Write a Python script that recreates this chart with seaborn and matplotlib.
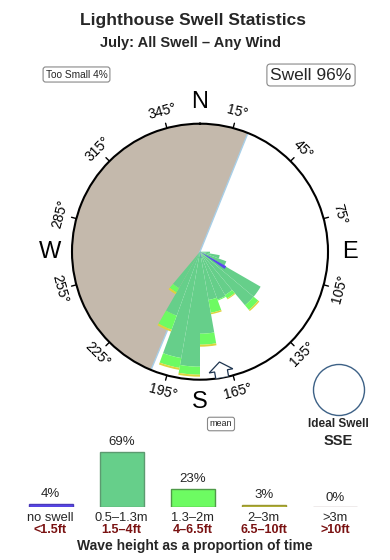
import numpy as np
import matplotlib
matplotlib.use("Agg")
import matplotlib.pyplot as plt
import seaborn as sns
from matplotlib.patches import Ellipse, Polygon

sns.set_theme(style="white")
plt.rcParams['font.family'] = ['Liberation Sans', 'DejaVu Sans']

# ---------------- data ----------------
title = "Lighthouse Swell Statistics"
subtitle = "July: All Swell \u2013 Any Wind"
too_small_pct = 4
swell_pct = 96
ideal_swell = "SSE"
mean_direction = 170

# rose bins (10 deg wide), centres in compass degrees
dir_centers = [95, 105, 115, 125, 135, 145, 155, 165, 175, 185, 195, 205, 215]
len_05_13 = [10, 20, 28, 70, 70, 50, 51, 49, 82, 115, 108, 68, 42]
len_13_2 = [0, 0, 0, 0, 6, 4, 1, 13, 11, 8, 10, 15, 5]
len_2_3 = [0, 0, 0, 0, 1.5, 1, 0, 1.5, 2, 2, 2, 2, 2]
noswell_dirs = [122, 170]
noswell_len = [30, 6]

land_start, land_end = 202.5, 382.0
rose_max = 128

degree_ticks = [15, 45, 75, 105, 135, 165, 195, 225, 255, 285, 315, 345]
cardinals = ["N", "E", "S", "W"]
cardinal_dirs = [0, 90, 180, 270]

# legend (height distribution)
cats = ["no swell", "0.5\u20131.3m", "1.3\u20132m", "2\u20133m", ">3m"]
feet = ["<1.5ft", "1.5\u20134ft", "4\u20136.5ft", "6.5\u201310ft", ">10ft"]
pcts = [4, 69, 23, 3, 0]

c_blue = "#5a48ee"
c_green = "#66cf8a"
c_lime = "#6dfb62"
c_yellow = "#dcd43c"
c_big = "#c9abab"
bar_colors = [c_blue, c_green, c_lime, "#bfbd3a", c_big]
bar_edges = ["#4a3ab8", "#5c9a70", "#4f9a48", "#9a9830", "#b09a9a"]
c_land = "#c4b9ac"

W, H = 390, 560
fig = plt.figure(figsize=(W / 100, H / 100), dpi=100)

def fx(x):
    return x / W

def fy(y):
    return 1 - y / H

# ---------------- rose ----------------
cx, cy, R = 200, 251.7, 128
ax = fig.add_axes([fx(cx - R), fy(cy + R), 2 * R / W, 2 * R / H], projection="polar")
ax.set_theta_zero_location("N")
ax.set_theta_direction(-1)
ax.set_ylim(0, rose_max)
ax.grid(False)
ax.set_xticks([])
ax.set_yticks([])
ax.spines["polar"].set_linewidth(1.5)
ax.spines["polar"].set_color("black")
ax.set_facecolor("white")

lw_land = land_end - land_start
ax.bar(np.radians(land_start + lw_land / 2), rose_max, width=np.radians(lw_land),
       color=c_land, linewidth=0, zorder=1)
for a in (land_start, land_end):
    ax.plot([np.radians(a)] * 2, [0, rose_max], color="#a8cfe8", lw=1.0, zorder=1.5)

th = np.radians(dir_centers)
wd = np.radians(10)
g = np.array(len_05_13, float)
b = np.array(len_13_2, float)
yl = np.array(len_2_3, float)
ax.bar(th, g, width=wd, bottom=0, color=c_green, linewidth=0, zorder=2)
ax.bar(th, b, width=wd, bottom=g, color=c_lime, linewidth=0, zorder=2)
ax.bar(th, yl, width=wd, bottom=g + b, color=c_yellow, linewidth=0, zorder=2)
ax.bar(np.radians(noswell_dirs), noswell_len, width=np.radians(6), color=c_blue,
       linewidth=0, zorder=3)

# tick marks & labels
for d in degree_ticks:
    t = np.radians(d)
    ax.plot([t, t], [rose_max, rose_max + 5], color="black", lw=1, clip_on=False)
    rot = (-d + 180) % 360 - 180
    if rot > 90:
        rot -= 180
    if rot < -90:
        rot += 180
    ax.text(t, rose_max + 17, f"{d}\u00b0", rotation=rot, rotation_mode="anchor",
            ha="center", va="center", fontsize=10, color="black", clip_on=False)
for lab, d in zip(cardinals, cardinal_dirs):
    ax.text(np.radians(d), rose_max + 22, lab, ha="center", va="center",
            fontsize=17, color="black", clip_on=False)

# mean arrow (block arrow at the rim pointing inward)
def rim_point(radial, tang):
    return (np.radians(mean_direction) + np.arctan2(tang, radial), np.hypot(radial, tang))

arrow_shape = [(rose_max, -6.5), (rose_max - 7, -6.5), (rose_max - 7, -12), (rose_max - 16, 0),
               (rose_max - 7, 12), (rose_max - 7, 6.5), (rose_max, 6.5)]
ax.add_patch(Polygon([rim_point(r, t) for r, t in arrow_shape], closed=True,
                     transform=ax.transData, fc="white", ec="#1e3550", lw=0.9, zorder=4))

# ---------------- texts ----------------
fig.text(fx(193), fy(20), title, ha="center", va="center", fontsize=12.5, fontweight="bold")
fig.text(fx(190), fy(42.5), subtitle, ha="center", va="center", fontsize=10.5, fontweight="bold")
box = dict(boxstyle="round,pad=0.25", fc="white", ec="#888888", lw=0.8)
fig.text(fx(76.5), fy(74.5), f"Too Small {too_small_pct}%", ha="center", va="center",
         fontsize=7.3, bbox=box)
fig.text(fx(311), fy(75), f"Swell {swell_pct}%", ha="center", va="center",
         fontsize=12.5, bbox=dict(boxstyle="round,pad=0.2", fc="white", ec="#888888", lw=0.8))
fig.text(fx(221), fy(424), "mean", ha="center", va="center", fontsize=6.5,
         bbox=dict(boxstyle="round,pad=0.25", fc="white", ec="#888888", lw=0.8))
fig.text(fx(338), fy(424), "Ideal Swell", ha="center", va="center", fontsize=8.5, fontweight="bold")
fig.text(fx(338), fy(441), ideal_swell, ha="center", va="center", fontsize=10.5, fontweight="bold")
fig.patches.append(Ellipse((fx(339), fy(390)), 51 / W, 51 / H, transform=fig.transFigure,
                           fill=False, ec="#3d6186", lw=1.0))
fig.text(fx(195), fy(546), "Wave height as a proportion of time", ha="center", va="center",
         fontsize=10, fontweight="bold")

# ---------------- legend bars ----------------
x0 = 15
bax = fig.add_axes([fx(x0), fy(507), 355.5 / W, 60 / H])
sns.barplot(x=cats, y=pcts, hue=cats, order=cats, hue_order=cats, palette=bar_colors,
            legend=False, ax=bax, width=0.62, linewidth=1.0, saturation=1)
for p, ec in zip(bax.patches, bar_edges):
    p.set_edgecolor(ec)
bax.set_xlim(-0.5, 4.5)
bax.set_ylim(0, 75)
bax.axis("off")
for i, (v, c, f) in enumerate(zip(pcts, cats, feet)):
    bax.annotate(f"{v}%", xy=(i, v), xytext=(0, 2.5), textcoords="offset points",
                 ha="center", va="bottom", fontsize=9.5, annotation_clip=False)
    bax.annotate(c, xy=(i, 0), xytext=(0, -8), textcoords="offset points",
                 ha="center", va="center", fontsize=9.3, annotation_clip=False)
    bax.annotate(f, xy=(i, 0), xytext=(0, -16.3), textcoords="offset points",
                 ha="center", va="center", fontsize=9, fontweight="bold",
                 color="#7a1212", annotation_clip=False)

fig.savefig("out.png", dpi=100, facecolor="white")
